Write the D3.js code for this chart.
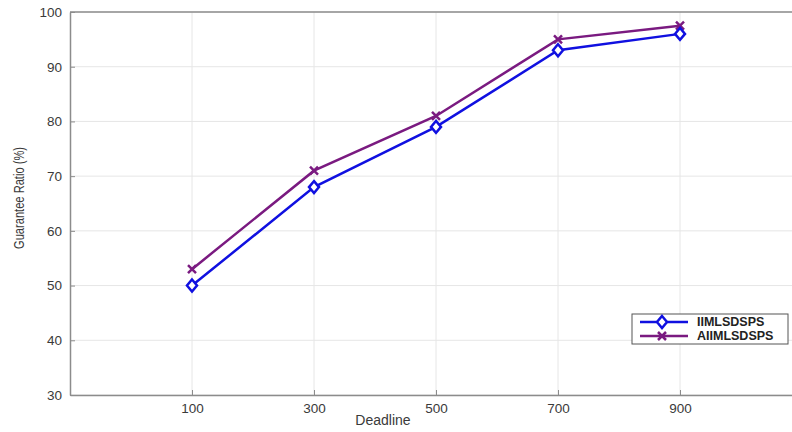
<!DOCTYPE html>
<html>
<head>
<meta charset="utf-8">
<script src="https://cdn.jsdelivr.net/npm/d3@7"></script>
<style>
  body { margin: 0; background: #fff; }
  text { font-family: "Liberation Sans", Arial, sans-serif; }
</style>
</head>
<body>
<div id="chart"></div>
<script>
var deadlines = [100, 300, 500, 700, 900];
var iimlsdsps = [50, 68, 79, 93, 96];
var aiimlsdsps = [53, 71, 81, 95, 97.5];
var yTicks = [30, 40, 50, 60, 70, 80, 90, 100];

function init() {
    var w = 792;
    var h = 432;

    var xScale = d3.scaleLinear().domain([-100, 1100]).range([70, 802]);
    var yScale = d3.scaleLinear().domain([30, 100]).range([395, 12]);

    var svg = d3.select("#chart").append("svg")
        .attr("width", w).attr("height", h);

    // grid
    svg.selectAll(".vgrid").data(deadlines).enter().append("line")
        .attr("x1", d => xScale(d)).attr("x2", d => xScale(d))
        .attr("y1", yScale(30)).attr("y2", yScale(100))
        .attr("stroke", "#e6e6e6").attr("stroke-width", 1);
    svg.selectAll(".hgrid").data(yTicks).enter().append("line")
        .attr("x1", xScale(-100)).attr("x2", xScale(1100))
        .attr("y1", d => yScale(d)).attr("y2", d => yScale(d))
        .attr("stroke", "#e6e6e6").attr("stroke-width", 1);

    // axes
    var xAxis = d3.axisBottom(xScale).tickValues(deadlines).tickSizeInner(-5).tickSizeOuter(0).tickPadding(8);
    var gx = svg.append("g").attr("transform", "translate(0," + yScale(30) + ")").call(xAxis);
    var yAxis = d3.axisLeft(yScale).tickValues(yTicks).tickSizeInner(-5).tickSizeOuter(0).tickPadding(8);
    var gy = svg.append("g").attr("transform", "translate(" + xScale(-100) + ",0)").call(yAxis);
    [gx, gy].forEach(function(g) {
        g.select(".domain").attr("stroke", "#8c8c8c").attr("stroke-width", 1.5);
        g.selectAll(".tick line").attr("stroke", "#8c8c8c");
        g.selectAll(".tick text").attr("fill", "#3a3a3a").style("font-size", "13.5px")
            .style("font-family", "'Liberation Sans', Arial, sans-serif");
    });
    gx.selectAll(".tick text").attr("dy", "0.75em");
    // top border
    svg.append("line")
        .attr("x1", xScale(-100)).attr("x2", xScale(1100))
        .attr("y1", yScale(100)).attr("y2", yScale(100))
        .attr("stroke", "#8c8c8c").attr("stroke-width", 1.5);

    // labels
    svg.append("text").attr("x", 383).attr("y", 425)
        .attr("text-anchor", "middle").attr("fill", "#3a3a3a")
        .style("font-size", "14px").text("Deadline");
    svg.append("text")
        .attr("transform", "translate(24,198) rotate(-90)")
        .attr("text-anchor", "middle").attr("fill", "#3a3a3a")
        .style("font-size", "14px").attr("textLength", 102)
        .attr("lengthAdjust", "spacingAndGlyphs")
        .text("Guarantee Ratio (%)");

    var line = d3.line().x(d => xScale(d[0])).y(d => yScale(d[1]));
    var blue = "#1010e0";
    var purple = "#7a1a80";

    var s1 = deadlines.map((d, i) => [d, iimlsdsps[i]]);
    var s2 = deadlines.map((d, i) => [d, aiimlsdsps[i]]);

    svg.append("path").datum(s2).attr("d", line)
        .attr("fill", "none").attr("stroke", purple).attr("stroke-width", 2.5);
    svg.append("path").datum(s1).attr("d", line)
        .attr("fill", "none").attr("stroke", blue).attr("stroke-width", 2.5);

    var diamond = "M0,-6 L5,0 L0,6 L-5,0 Z";
    var cross = "M-4,-4 L4,4 M-4,4 L4,-4";

    svg.selectAll(".m2").data(s2).enter().append("path")
        .attr("transform", d => "translate(" + xScale(d[0]) + "," + yScale(d[1]) + ")")
        .attr("d", cross).attr("fill", "none").attr("stroke", purple).attr("stroke-width", 2.5);
    svg.selectAll(".m1").data(s1).enter().append("path")
        .attr("transform", d => "translate(" + xScale(d[0]) + "," + yScale(d[1]) + ")")
        .attr("d", diamond).attr("fill", "white").attr("stroke", blue).attr("stroke-width", 2.5);

    // legend
    var lg = svg.append("g").attr("transform", "translate(632,314)");
    lg.append("rect").attr("width", 156).attr("height", 30)
        .attr("fill", "white").attr("stroke", "#555").attr("stroke-width", 1);
    var entries = [["IIMLSDSPS", blue, diamond], ["AIIMLSDSPS", purple, cross]];
    entries.forEach(function(e, i) {
        var y = 8 + i * 14;
        lg.append("line").attr("x1", 8).attr("x2", 56).attr("y1", y).attr("y2", y)
            .attr("stroke", e[1]).attr("stroke-width", 2.5);
        lg.append("path").attr("transform", "translate(30," + y + ")")
            .attr("d", e[2]).attr("fill", i === 0 ? "white" : "none")
            .attr("stroke", e[1]).attr("stroke-width", 2.5);
        lg.append("text").attr("x", 65).attr("y", y).attr("dy", "0.35em")
            .attr("fill", "#222").style("font-size", "12.5px").style("font-weight", "bold")
            .text(e[0]);
    });
}

window.onload = init;
</script>
</body>
</html>
